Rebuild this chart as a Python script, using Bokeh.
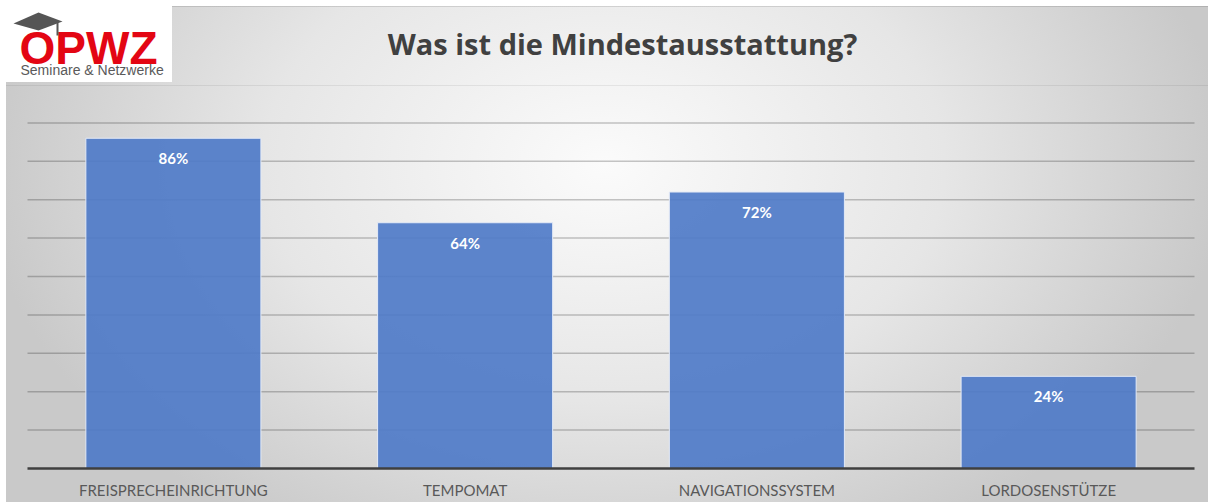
from bokeh.plotting import figure
from bokeh.models import Range1d, Label, PolyAnnotation, ColumnDataSource
from bokeh.core.properties import value
from bokeh.embed import file_html
from bokeh.resources import INLINE

categories = ["FREISPRECHEINRICHTUNG", "TEMPOMAT", "NAVIGATIONSSYSTEM", "LORDOSENSTÜTZE"]
values = [86, 64, 72, 24]
value_labels = [f"{v}%" for v in values]
grid_ticks = [10, 20, 30, 40, 50, 60, 70, 80, 90]
title_text = "Was ist die Mindestausstattung?"

W, H = 1208, 502
# plot area in page pixels: left 27, right 1194, top 84 (=100%), bottom 468 (=0%)
PL, PR, PT, PB = 27, 1194, 84, 468
n = len(categories)
cw = (PR - PL) / n
ppu = (PB - PT) / 100.0

xpos = [i + 0.5 for i in range(n)]
src = ColumnDataSource(dict(x=xpos, cat=categories, val=values, lbl=value_labels))

p = figure(x_range=Range1d(-PL / cw, n + (W - PR) / cw),
           y_range=Range1d(-(H - PB) / ppu, PB / ppu),
           width=W, height=H, output_backend="svg", toolbar_location=None,
           min_border=0)
p.border_fill_color = None
p.background_fill_color = None
p.outline_line_color = None
p.xaxis.visible = False
p.yaxis.visible = False
p.grid.visible = False
p.styles = {
    "background-image": (
        "linear-gradient(#ffffff, #ffffff), "
        "linear-gradient(#ffffff, #ffffff), "
        "linear-gradient(#ffffff, #ffffff), "
        "linear-gradient(to bottom, rgba(0,0,0,0.12) 0px, rgba(0,0,0,0.12) 1px, rgba(0,0,0,0) 1px, "
        "rgba(0,0,0,0) 79px, rgba(0,0,0,0.07) 79px, rgba(0,0,0,0.07) 80px, rgba(0,0,0,0) 80px), "
        "radial-gradient(ellipse 620px 430px at 604px 165px, #fbfbfb 0%, #e6e6e6 55%, #c9c9c9 100%)"
    ),
    "background-size": "6px 100%, 100% 6px, 166px 76px, 100% 100%, 100% 100%",
    "background-position": "0 0, 0 0, 6px 6px, 0 6px, 0 0",
    "background-repeat": "no-repeat",
}

# horizontal gridlines across the category area
p.segment(x0=[0] * len(grid_ticks), x1=[n] * len(grid_ticks), y0=grid_ticks, y1=grid_ticks,
          line_color="#000000", line_alpha=0.22, line_width=1.5)

p.vbar(x="x", top="val", width=0.6, source=src, fill_color="#4f7bc8", fill_alpha=0.92,
       line_color="#e4eaf6", line_width=1)

# baseline (category axis)
p.segment(x0=[0], x1=[n], y0=[0], y1=[0], line_color="#3f3f3f", line_width=2.5)

p.text(x="x", y="val", text="lbl", source=src, y_offset=20, text_baseline="alphabetic",
       text_align="center", text_color="white", text_font_style="bold",
       text_font_size="15px", text_font=value("Lato"))

p.text(x="x", y=0, text="cat", source=src, y_offset=21, text_baseline="middle",
       text_align="center", text_color="#595959", text_font_size="15px",
       text_font=value("Lato"))

def sx(px):
    return px

def sy(py):
    return H - py

p.add_layout(Label(x=sx(622), y=sy(43), x_units="screen", y_units="screen", text=title_text,
                   text_align="center", text_baseline="middle", text_font="Open Sans",
                   text_font_style="bold", text_font_size="29px", text_color="#404040"))
p.add_layout(Label(x=sx(19), y=sy(47), x_units="screen", y_units="screen", text="OPWZ",
                   text_align="left", text_baseline="alphabetic", text_font="Liberation Sans",
                   text_font_style="bold", text_font_size="46px", text_color="#e30613"))
p.add_layout(Label(x=sx(20), y=sy(69), x_units="screen", y_units="screen", text="Seminare & Netzwerke",
                   text_align="left", text_baseline="middle", text_font="Liberation Sans",
                   text_font_size="14px", text_color="#5a5a5a"))
p.add_layout(PolyAnnotation(xs=[sx(13), sx(38), sx(62), sx(38)], ys=[sy(23), sy(12), sy(21), sy(30)],
                            xs_units="screen", ys_units="screen",
                            fill_color="#555555", fill_alpha=1, line_color=None))
p.add_layout(PolyAnnotation(xs=[sx(56), sx(58), sx(58), sx(56)], ys=[sy(22), sy(22), sy(35), sy(35)],
                            xs_units="screen", ys_units="screen",
                            fill_color="#555555", fill_alpha=1, line_color=None))

open("out.html", "w").write(file_html(p, INLINE))
